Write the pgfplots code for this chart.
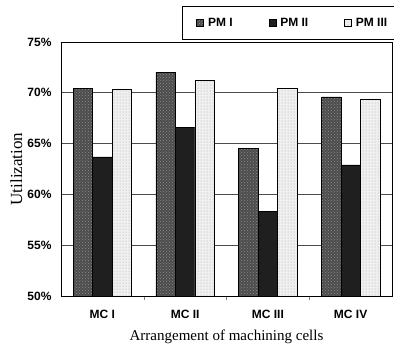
\documentclass[border=0pt]{standalone}
\usepackage{pgfplots}
\pgfplotsset{compat=1.18}
\usepackage{fontspec}
\setmainfont{Liberation Serif}
\setsansfont{Liberation Sans}
\usetikzlibrary{patterns}
\pgfplotstableread{
x pmI pmII pmIII
0 70.4 63.7 70.3
1 72.0 66.6 71.2
2 64.5 58.3 70.4
3 69.6 62.9 69.4
}\datatable
\begin{document}
\begin{tikzpicture}
\begin{axis}[
  at={(61pt,53pt)}, anchor=south west,
  scale only axis, width=331pt, height=254pt,
  ybar=0pt, bar width=19.5pt,
  xmin=-0.5, xmax=3.5, ymin=50, ymax=75,
  xtick={0,1,2,3}, xticklabels={MC I,MC II,MC III,MC IV},
  minor xtick={0.5,1.5,2.5},
  major x tick style={draw=none},
  minor tick length=4pt,
  xtick pos=bottom,
  ytick={50,55,60,65,70,75},
  yticklabels={50\%,55\%,60\%,65\%,70\%,75\%},
  major y tick style={draw=none},
  ymajorgrids, grid style={black!70, line width=0.8pt},
  axis line style={black, line width=0.8pt},
  tick label style={font=\sffamily\bfseries\fontsize{12}{12}\selectfont},
  xticklabel style={anchor=center, yshift=-14pt},
  yticklabel style={anchor=east, xshift=-6pt},
  xlabel={Arrangement of machining cells},
  ylabel={Utilization},
  label style={font=\rmfamily\fontsize{15}{15}\selectfont},
  xlabel style={at={(axis description cs:0.5,-0.161)}, anchor=center},
  ylabel style={at={(axis description cs:-0.135,0.5)}, anchor=center, font=\rmfamily\fontsize{17}{17}\selectfont},
  legend columns=3,
  legend image code/.code={\draw[#1, line width=0.6pt] (0pt,-3.5pt) rectangle (7pt,3.5pt);},
  legend style={at={(axis description cs:0.3656,1.1417)}, anchor=north west,
    draw=black, line width=0.8pt, inner xsep=14pt, inner ysep=9.5pt,
    font=\sffamily\bfseries\fontsize{12}{12}\selectfont,
    /tikz/every even column/.append style={column sep=34pt},
    /tikz/every odd column/.append style={column sep=2pt}},
]
\addplot[draw=black, line width=0.6pt, fill=black!70, postaction={pattern=crosshatch dots, pattern color=white!55!black}] table[x=x, y=pmI] {\datatable};
\addplot[draw=black, line width=0.6pt, fill=black!88] table[x=x, y=pmII] {\datatable};
\addplot[draw=black, line width=0.6pt, fill=black!6, postaction={pattern=dots, pattern color=black!35}] table[x=x, y=pmIII] {\datatable};
\legend{PM I, PM II, PM III}
\end{axis}
\pgfresetboundingbox
\path (0,0) rectangle (394pt,349pt);
\end{tikzpicture}
\end{document}
